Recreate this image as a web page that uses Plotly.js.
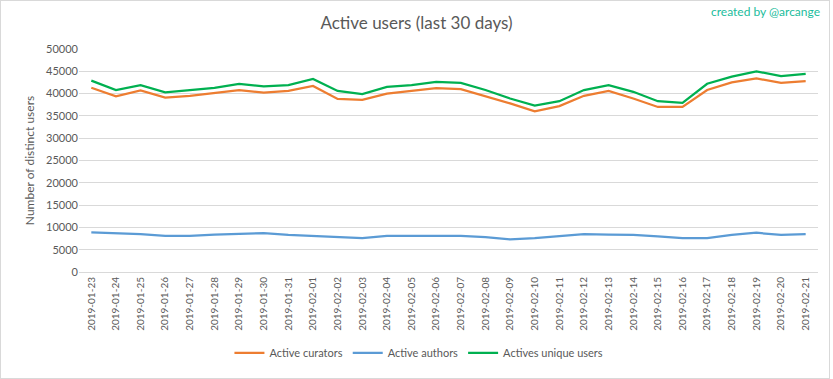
<!DOCTYPE html>
<html>
<head>
<meta charset="utf-8">
<script src="https://cdn.plot.ly/plotly-3.0.1.min.js"></script>
<style>
  body { margin: 0; padding: 0; background: #fff; }
  #wrap { position: relative; width: 833px; height: 379px; }
  #chart { width: 833px; height: 379px; }
  #frame { position: absolute; left: 0; top: 0; width: 828px; height: 377px; border: 1px solid #d9d9d9; pointer-events: none; }
</style>
</head>
<body>
<div id="wrap"><div id="chart"></div><div id="frame"></div></div>
<script>
const dates = ["2019-01-23","2019-01-24","2019-01-25","2019-01-26","2019-01-27","2019-01-28","2019-01-29","2019-01-30","2019-01-31","2019-02-01","2019-02-02","2019-02-03","2019-02-04","2019-02-05","2019-02-06","2019-02-07","2019-02-08","2019-02-09","2019-02-10","2019-02-11","2019-02-12","2019-02-13","2019-02-14","2019-02-15","2019-02-16","2019-02-17","2019-02-18","2019-02-19","2019-02-20","2019-02-21"];
const curators = [41300,39400,40700,39100,39500,40100,40800,40200,40600,41700,38800,38600,40000,40600,41200,41000,39400,37800,36000,37200,39500,40600,38900,37000,37000,40800,42500,43400,42400,42800];
const authors = [8900,8700,8500,8100,8100,8400,8500,8700,8300,8100,7900,7600,8100,8100,8100,8100,7800,7300,7600,8100,8500,8400,8300,8000,7600,7600,8300,8800,8300,8500];
const uniqueUsers = [42900,40800,41900,40300,40800,41300,42200,41600,41900,43300,40600,39900,41500,41900,42600,42400,40800,38900,37300,38300,40800,41900,40400,38300,37900,42200,43800,45000,43900,44400];
const yTicks = [0,5000,10000,15000,20000,25000,30000,35000,40000,45000,50000];

const font = "Lato, 'Open Sans', sans-serif";
const grey = "#595959";

const traces = [
  {x: dates, y: curators, name: "Active curators", type: "scatter", mode: "lines", line: {color: "#ED7D31", width: 2.25}},
  {x: dates, y: authors, name: "Active authors", type: "scatter", mode: "lines", line: {color: "#5B9BD5", width: 2.25}},
  {x: dates, y: uniqueUsers, name: "Actives unique users", type: "scatter", mode: "lines", line: {color: "#00B050", width: 2.25}}
];

const layout = {
  width: 833, height: 379,
  margin: {l: 79, r: 15, t: 49, b: 104},
  paper_bgcolor: "#fff", plot_bgcolor: "#fff",
  font: {family: font, color: grey, size: 11},
  title: {text: "Active users (last 30 days)", x: 0.5, xanchor: "center", y: 0.94, yanchor: "middle",
          font: {family: font, size: 17, color: grey}},
  showlegend: true,
  legend: {orientation: "h", x: 0.46, xanchor: "center", y: -0.363, yanchor: "middle",
           font: {family: font, size: 11, color: grey}, itemwidth: 30, tracegroupgap: 0},
  xaxis: {type: "category", range: [-0.5, dates.length - 0.5], tickangle: -90, showgrid: false,
          showline: true, linecolor: "#d9d9d9", ticks: "", tickfont: {family: font, size: 10, color: grey}, automargin: false},
  yaxis: {range: [0, 50000], tickvals: yTicks, ticktext: yTicks.map(String), showgrid: true, gridcolor: "#d9d9d9",
          zeroline: false, showline: false, ticks: "", tickfont: {family: font, size: 11, color: grey},
          title: {text: "Number of distinct users", font: {family: font, size: 12, color: grey}, standoff: 8}, automargin: false},
  annotations: [{text: "created by @arcange", xref: "paper", yref: "paper", x: 1.006, y: 1.17, xanchor: "right", yanchor: "middle",
                 showarrow: false, font: {family: font, size: 12, color: "#1ABC9C"}}]
};

Plotly.newPlot("chart", traces, layout, {displayModeBar: false, staticPlot: true});
</script>
</body>
</html>
